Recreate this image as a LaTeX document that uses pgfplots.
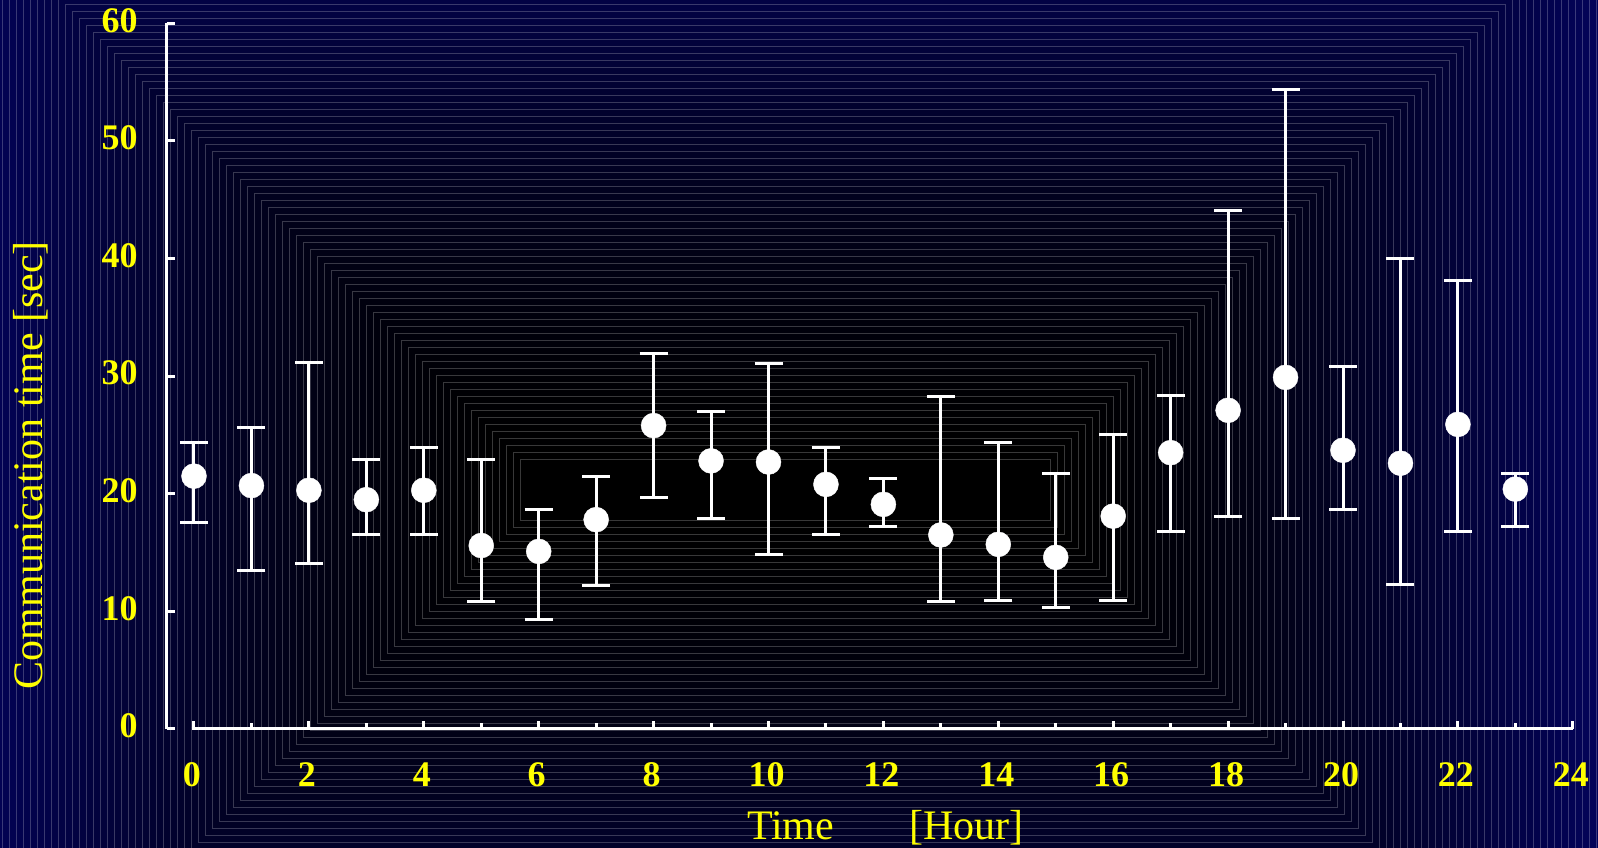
\documentclass[border=0pt]{standalone}
\usepackage{pgfplots}
\usepackage{pgfplotstable}
\pgfplotsset{compat=1.18}
\usepackage{fontspec}
\setmainfont{Liberation Serif}
\definecolor{edgeblue}{RGB}{3,3,100}
\definecolor{tickyellow}{RGB}{255,255,0}

\pgfplotstableread{
x  y    hi   lo
0  21.5 24.4 17.6
1  20.7 25.6 13.5
2  20.3 31.2 14.1
3  19.5 22.9 16.5
4  20.3 23.9 16.5
5  15.6 22.9 10.8
6  15.1 18.7 9.3
7  17.8 21.5 12.2
8  25.8 31.9 19.7
9  22.8 27.0 17.9
10 22.7 31.1 14.8
11 20.8 23.9 16.5
12 19.1 21.3 17.2
13 16.5 28.3 10.8
14 15.7 24.4 10.9
15 14.6 21.7 10.3
16 18.1 25.0 10.9
17 23.5 28.4 16.8
18 27.1 44.1 18.1
19 29.9 54.4 17.9
20 23.7 30.8 18.7
21 22.6 40.0 12.3
22 25.9 38.1 16.8
23 20.4 21.7 17.2
}\datatable

\begin{document}
\begin{tikzpicture}[x=1pt,y=1pt]
\begin{scope}
\clip (-194,-119) rectangle (1404,729);
\fill[edgeblue] (-194,-119) rectangle (1404,729);
\foreach \k [evaluate=\k as \p using {100*(\k/85)^1.5}] in {85,84,...,0} {
  \filldraw[fill=edgeblue!\p!black, draw=white, draw opacity=0.22, line width=0.8pt]
    ({326-7*\k},{209-7*\k}) rectangle ({856+7*\k},{270+7*\k});
}
\end{scope}

\begin{axis}[
  anchor=origin, at={(0,0)},
  x=57.45pt, y=11.76pt,
  xmin=-0.475, xmax=24, ymin=0, ymax=60,
  clip=false,
  axis line style={draw=none},
  tick pos=left,
  tick align=inside,
  xtick={0,2,...,24},
  minor xtick={1,3,...,23},
  ytick={0,10,...,60},
  major tick length=8pt, minor tick length=6pt,
  tick style={white, line width=3pt},
  minor tick style={white, line width=3pt},
  ticklabel style={text=tickyellow, font=\fontsize{36}{36}\selectfont\bfseries},
  /pgf/number format/assume math mode=true,
  xticklabel style={anchor=base, inner sep=0pt, yshift=-57pt, xshift=-2pt},
  yticklabel style={anchor=east, inner sep=0pt, xshift=-29pt, yshift=3pt},
  xlabel={Time\hspace{75pt}[Hour]},
  ylabel={Communication time [sec]},
  label style={text=tickyellow, font=\fontsize{42}{42}\selectfont},
  xlabel style={at={(axis description cs:0.511,-0.156)}, anchor=base},
  ylabel style={at={(axis description cs:-0.0967,0.374)}, anchor=center},
]
\draw[white, line width=3pt] (axis cs:-0.04,0) -- (axis cs:24,0);
\draw[white, line width=3pt] (axis cs:-0.475,0) -- (axis cs:-0.475,60);
\addplot[only marks, mark=*, mark size=12.5pt, white,
  mark options={fill=white, draw=white},
  error bars/.cd, y dir=both, y explicit,
  error bar style={white, line width=3pt},
  error mark options={white, rotate=90, mark size=14pt, line width=3pt}]
  table[x=x, y=y, y error plus expr=\thisrow{hi}-\thisrow{y}, y error minus expr=\thisrow{y}-\thisrow{lo}] {\datatable};
\end{axis}
\pgfresetboundingbox
\useasboundingbox (-194,-119) rectangle (1404,729);
\end{tikzpicture}
\end{document}
